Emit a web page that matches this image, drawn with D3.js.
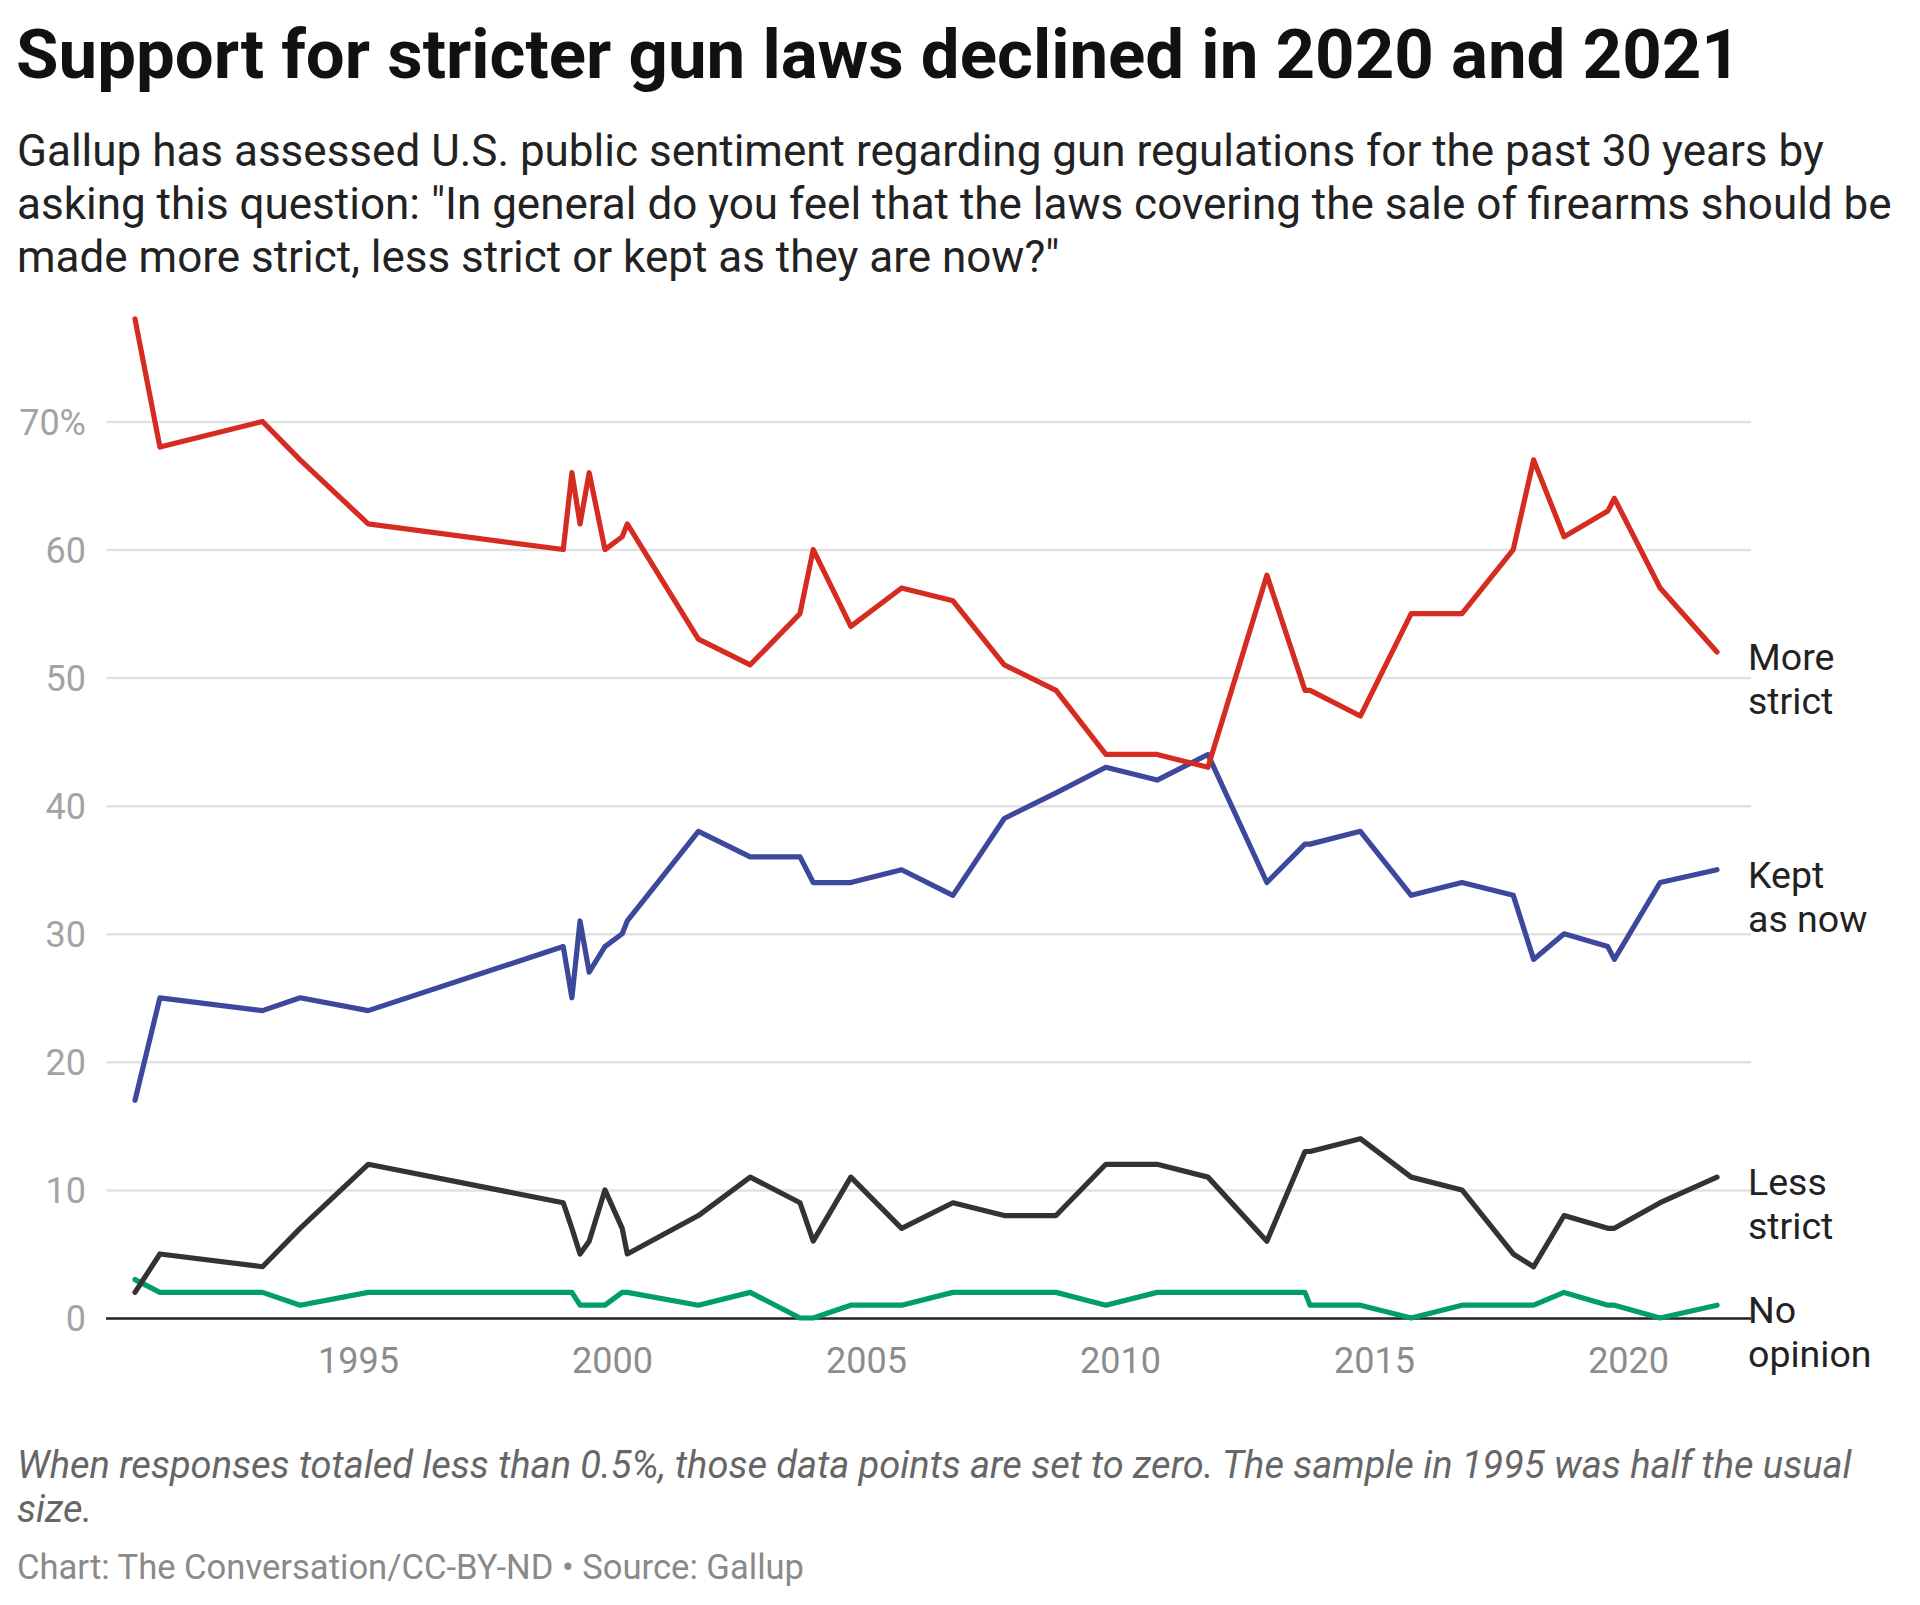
<!DOCTYPE html>
<html>
<head>
<meta charset="utf-8">
<script src="https://cdn.jsdelivr.net/npm/d3@7"></script>
<style>
    html, body { margin: 0; padding: 0; background: #fff; }
    svg { display: block; font-family: Roboto, "Noto Sans", sans-serif; }
</style>
</head>
<body>
<svg id="chart" width="1920" height="1605"></svg>
<script>
// Gallup: "should the laws covering the sale of firearms be made more strict, less strict or kept as they are now?"
// survey dates as decimal years
const dates = [1990.61, 1991.1, 1993.12, 1993.86, 1995.2, 1999.04, 1999.21, 1999.37, 1999.55, 1999.86, 2000.2, 2000.3,
    2001.7, 2002.72, 2003.7, 2003.96, 2004.7, 2005.7, 2006.71, 2007.72, 2008.74, 2009.72, 2010.73, 2011.73,
    2012.89, 2013.64, 2013.74, 2014.73, 2015.73, 2016.73, 2017.74, 2018.14, 2018.74, 2019.6, 2019.73, 2020.63, 2021.75];

const moreStrict = [78, 68, 70, 67, 62, 60, 66, 62, 66, 60, 61, 62,
    53, 51, 55, 60, 54, 57, 56, 51, 49, 44, 44, 43,
    58, 49, 49, 47, 55, 55, 60, 67, 61, 63, 64, 57, 52];
const keptAsNow = [17, 25, 24, 25, 24, 29, 25, 31, 27, 29, 30, 31,
    38, 36, 36, 34, 34, 35, 33, 39, 41, 43, 42, 44,
    34, 37, 37, 38, 33, 34, 33, 28, 30, 29, 28, 34, 35];
const lessStrict = [2, 5, 4, 7, 12, 9, 7, 5, 6, 10, 7, 5,
    8, 11, 9, 6, 11, 7, 9, 8, 8, 12, 12, 11,
    6, 13, 13, 14, 11, 10, 5, 4, 8, 7, 7, 9, 11];
const noOpinion = [3, 2, 2, 1, 2, 2, 2, 1, 1, 1, 2, 2,
    1, 2, 0, 0, 1, 1, 2, 2, 2, 1, 2, 2,
    2, 2, 1, 1, 0, 1, 1, 1, 2, 1, 1, 0, 1];

const seriesLabels = [["More", "strict"], ["Kept", "as now"], ["Less", "strict"], ["No", "opinion"]];
const yTicks = [0, 10, 20, 30, 40, 50, 60, 70];
const xTicks = [1995, 2000, 2005, 2010, 2015, 2020];

const titleText = "Support for stricter gun laws declined in 2020 and 2021";
const subtitleLines = [
    "Gallup has assessed U.S. public sentiment regarding gun regulations for the past 30 years by",
    "asking this question: \"In general do you feel that the laws covering the sale of firearms should be",
    "made more strict, less strict or kept as they are now?\""
];
const noteLines = [
    "When responses totaled less than 0.5%, those data points are set to zero. The sample in 1995 was half the usual",
    "size."
];
const creditText = "Chart: The Conversation/CC-BY-ND \u2022 Source: Gallup";

const SVG = d3.select("#chart");
const GRID_LEFT = 106, GRID_RIGHT = 1751;

const x = d3.scaleLinear().domain(d3.extent(dates)).range([135, 1717]);
const y = d3.scaleLinear().domain([0, d3.max(moreStrict)]).range([1318, 319]);

// header
SVG.append("text")
    .attr("x", 16).attr("y", 78)
    .attr("font-size", 69).attr("font-weight", 700).attr("fill", "#111")
    .text(titleText);

SVG.append("g").selectAll("text")
    .data(subtitleLines)
    .join("text")
    .attr("x", 17)
    .attr("y", (d, i) => 166 + i * 53)
    .attr("font-size", 44).attr("fill", "#222")
    .text(d => d);

// y grid + labels
const yAxis = SVG.append("g")
    .attr("transform", `translate(${GRID_LEFT},0)`)
    .call(d3.axisRight(y)
        .tickValues(yTicks)
        .tickSize(GRID_RIGHT - GRID_LEFT)
        .tickFormat(d => d === 70 ? "70%" : d));
yAxis.select(".domain").remove();
yAxis.selectAll("line")
    .attr("stroke", d => d === 0 ? "#222" : "#e2e2e2")
    .attr("stroke-width", 2.5);
yAxis.selectAll("text")
    .attr("x", -20).attr("dy", "0.36em")
    .attr("text-anchor", "end")
    .attr("font-size", 36).attr("fill", "#a3a3a3")
    .attr("font-family", "Roboto");

// x labels
const xAxis = SVG.append("g")
    .attr("transform", `translate(0,${y(0)})`)
    .call(d3.axisBottom(x).tickValues(xTicks).tickSize(0).tickFormat(d3.format("d")));
xAxis.select(".domain").remove();
xAxis.selectAll("text")
    .attr("y", 55).attr("dy", 0)
    .attr("font-size", 36).attr("fill", "#8c8c8c")
    .attr("font-family", "Roboto");

// lines, drawn bottom series first
const series = [
    { values: noOpinion, color: "#019d6e", label: seriesLabels[3] },
    { values: lessStrict, color: "#333333", label: seriesLabels[2] },
    { values: keptAsNow, color: "#3d489c", label: seriesLabels[1] },
    { values: moreStrict, color: "#d62b20", label: seriesLabels[0] }
];

const line = d3.line()
    .x((d, i) => x(dates[i]))
    .y(d => y(d));

SVG.append("g").selectAll("path")
    .data(series)
    .join("path")
    .attr("d", d => line(d.values))
    .attr("fill", "none")
    .attr("stroke", d => d.color)
    .attr("stroke-width", 5.2)
    .attr("stroke-linejoin", "round")
    .attr("stroke-linecap", "round");

// end labels
const labels = SVG.append("g").selectAll("text")
    .data(series)
    .join("text")
    .attr("x", GRID_RIGHT - 3)
    .attr("y", d => y(d.values[d.values.length - 1]) + 18)
    .attr("font-size", 37.5).attr("fill", "#222");
labels.selectAll("tspan")
    .data(d => d.label)
    .join("tspan")
    .attr("x", GRID_RIGHT - 3)
    .attr("dy", (d, i) => i === 0 ? 0 : 44)
    .text(d => d);

// footer
SVG.append("g").selectAll("text")
    .data(noteLines)
    .join("text")
    .attr("x", 17)
    .attr("y", (d, i) => 1478 + i * 44)
    .attr("font-size", 38).attr("font-style", "italic").attr("fill", "#666")
    .text(d => d);

SVG.append("text")
    .attr("x", 17).attr("y", 1579)
    .attr("font-size", 34.6).attr("fill", "#8a8a8a")
    .text(creditText);
</script>
</body>
</html>
